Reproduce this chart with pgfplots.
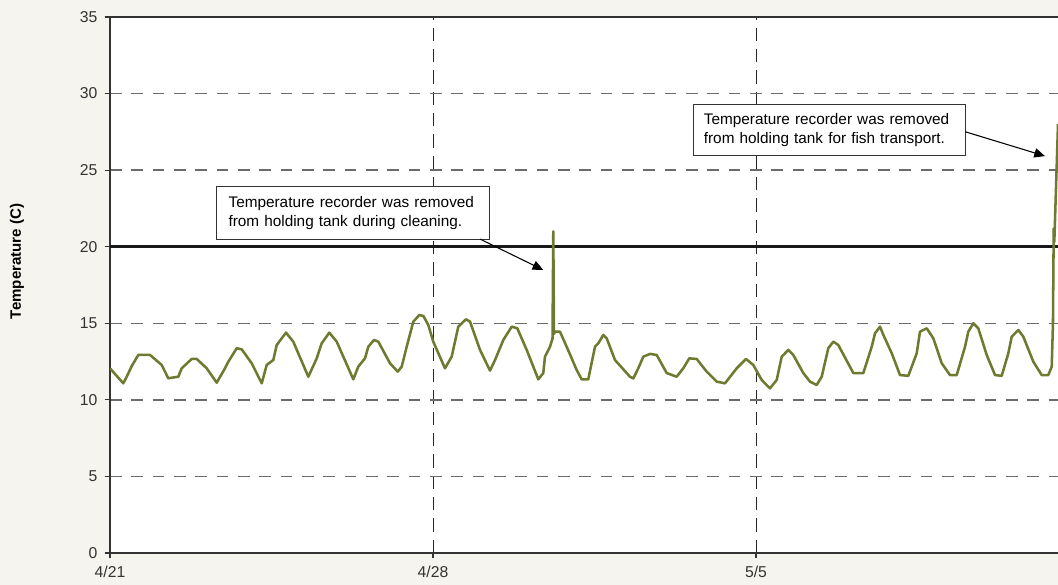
\documentclass[border=0pt]{standalone}
\usepackage{pgfplots}
\pgfplotsset{compat=1.18}
\usetikzlibrary{arrows.meta}
\usepackage{fontspec}
\setmainfont{Liberation Sans}
\definecolor{bg}{RGB}{245,244,238}
\definecolor{olivec}{RGB}{110,122,48}
\definecolor{axisgray}{RGB}{51,51,51}
\begin{document}
\begin{tikzpicture}
\fill[bg] (0,0) rectangle (793.5pt,438.75pt);
\useasboundingbox (0,0) rectangle (793.5pt,438.75pt);
\begin{axis}[
  at={(82.5pt,24pt)}, anchor=south west,
  scale only axis, width=711pt, height=402pt,
  xmin=0, xmax=20.545, ymin=0, ymax=35,
  axis x line*=box, axis y line*=left,
  axis background/.style={fill=white},
  xtick={0,7,14}, xticklabels={4/21,4/28,5/5},
  ytick={0,5,...,35},
  xtick pos=bottom,
  tick align=outside, major tick length=4pt,
  tick style={axisgray, line width=0.8pt},
  axis line style={axisgray, line width=1.3pt},
  xmajorgrids, ymajorgrids,
  x grid style={black!85, line width=0.65pt, dash pattern=on 10pt off 6pt},
  y grid style={black!58, line width=1.1pt, dash pattern=on 8.75pt off 7.25pt},
  /pgf/number format/assume math mode=true,
  ticklabel style={font=\fontsize{11.8}{13}\selectfont, text=axisgray},
  yticklabel style={xshift=-2pt},
  xticklabel style={yshift=-2.5pt},
  ylabel={Temperature (C)},
  ylabel style={at={(axis description cs:-0.098,0.544)}, anchor=center, font=\fontsize{11.3}{13}\bfseries\selectfont, text=black},
  clip=true,
]
\addplot[black!90, line width=2pt] coordinates {(0,20) (20.545,20)};
\addplot[olivec, line width=1.9pt, line join=round] coordinates {
(0.000,12.06) (0.288,11.08) (0.362,11.51) (0.470,12.20) (0.613,12.93) (0.867,12.93)
(1.120,12.28) (1.263,11.41) (1.480,11.51) (1.554,12.06) (1.771,12.67) (1.879,12.67)
(2.096,12.06) (2.312,11.12) (2.492,12.06) (2.564,12.49) (2.746,13.37) (2.854,13.30)
(3.071,12.39) (3.288,11.08) (3.396,12.28) (3.539,12.60) (3.613,13.58) (3.814,14.39)
(3.972,13.80) (4.298,11.51) (4.480,12.71) (4.588,13.69) (4.753,14.39) (4.913,13.80)
(5.273,11.34) (5.381,12.17) (5.526,12.71) (5.598,13.47) (5.721,13.91) (5.815,13.80)
(6.068,12.39) (6.235,11.84) (6.322,12.17) (6.430,13.47) (6.573,15.10) (6.703,15.54)
(6.790,15.48) (6.898,14.89) (7.006,13.80) (7.260,12.06) (7.405,12.82) (7.548,14.78)
(7.715,15.26) (7.802,15.11) (8.019,13.26) (8.235,11.91) (8.344,12.60) (8.524,13.91)
(8.706,14.78) (8.827,14.67) (9.031,13.26) (9.282,11.34) (9.390,11.75) (9.427,12.82)
(9.536,13.47) (9.590,14.00) (9.607,21.00) (9.622,14.30) (9.644,14.45) (9.752,14.45)
(9.897,13.47) (10.114,11.95) (10.222,11.34) (10.365,11.34) (10.511,13.47) (10.582,13.69)
(10.691,14.24) (10.764,14.02) (10.944,12.60) (11.269,11.51) (11.341,11.40) (11.449,12.06)
(11.558,12.82) (11.703,13.00) (11.848,12.93) (12.065,11.75) (12.281,11.51) (12.424,12.06)
(12.554,12.71) (12.715,12.67) (12.932,11.84) (13.148,11.19) (13.328,11.08) (13.582,12.06)
(13.783,12.67) (13.941,12.28) (14.123,11.30) (14.303,10.75) (14.449,11.30) (14.557,12.82)
(14.700,13.26) (14.808,12.93) (15.025,11.75) (15.170,11.19) (15.315,10.97) (15.424,11.51)
(15.567,13.37) (15.675,13.80) (15.784,13.58) (16.109,11.75) (16.326,11.75) (16.508,13.47)
(16.580,14.35) (16.688,14.78) (16.760,14.24) (16.942,13.04) (17.121,11.62) (17.301,11.57)
(17.483,13.04) (17.554,14.45) (17.700,14.67) (17.843,14.02) (18.025,12.39) (18.204,11.62)
(18.350,11.62) (18.530,13.47) (18.601,14.45) (18.709,15.00) (18.818,14.67) (19.000,12.93)
(19.180,11.62) (19.325,11.57) (19.468,13.04) (19.542,14.13) (19.685,14.56) (19.793,14.13)
(20.010,12.49) (20.192,11.62) (20.335,11.62) (20.409,12.17) (20.436,15.00) (20.452,21.20)
(20.465,20.30) (20.545,28.00)
};
\node[draw=axisgray, line width=0.9pt, fill=white, anchor=north west,
  text width=186.75pt, inner xsep=9pt, minimum height=39.75pt, align=left,
  font=\fontsize{11.5}{14.25}\selectfont, text=black]
  at (axis cs:2.297,23.96) {Temperature recorder was removed\\from holding tank during cleaning.};
\node[draw=axisgray, line width=0.9pt, fill=white, anchor=north west,
  text width=188.2pt, inner xsep=8pt, minimum height=38.25pt, align=left,
  font=\fontsize{11.5}{14.25}\selectfont, text=black]
  at (axis cs:12.626,29.32) {Temperature recorder was removed\\from holding tank for fish transport.};
\draw[black, line width=0.8pt, -{Triangle[length=8pt,width=7pt]}] (axis cs:8.019,20.50) -- (axis cs:9.390,18.48);
\draw[black, line width=0.8pt, -{Triangle[length=8pt,width=7pt]}] (axis cs:18.530,27.51) -- (axis cs:20.263,25.92);
\end{axis}
\end{tikzpicture}
\end{document}
